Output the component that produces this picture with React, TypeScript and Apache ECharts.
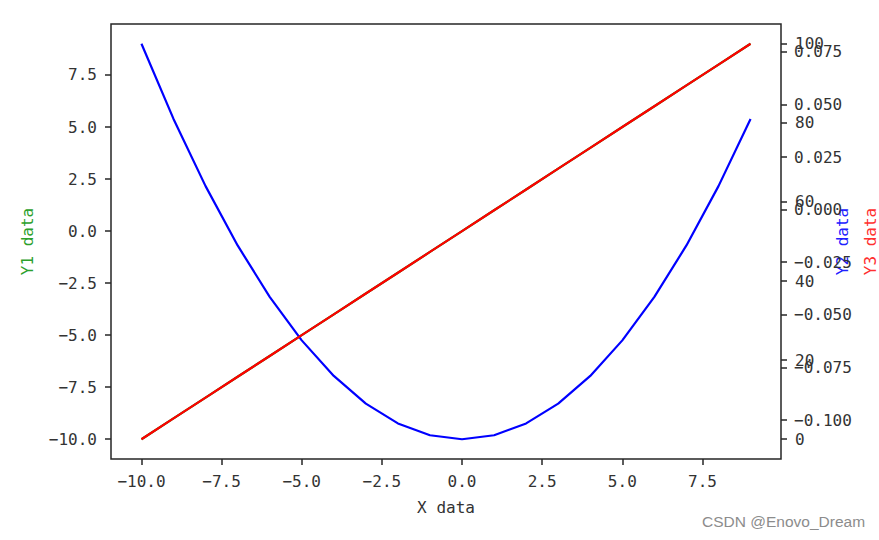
import React, { useEffect, useRef } from "react";
import * as echarts from "echarts";

const xValues = [-10, -9, -8, -7, -6, -5, -4, -3, -2, -1, 0, 1, 2, 3, 4, 5, 6, 7, 8, 9];
const y1Values = [-10, -9, -8, -7, -6, -5, -4, -3, -2, -1, 0, 1, 2, 3, 4, 5, 6, 7, 8, 9];
const y2Values = [100, 81, 64, 49, 36, 25, 16, 9, 4, 1, 0, 1, 4, 9, 16, 25, 36, 49, 64, 81];
const y3Values = [-10, -9, -8, -7, -6, -5, -4, -3, -2, -1, 0, 1, 2, 3, 4, 5, 6, 7, 8, 9];

const xTicks = [-10, -7.5, -5, -2.5, 0, 2.5, 5, 7.5];
const y1Ticks = [-10, -7.5, -5, -2.5, 0, 2.5, 5, 7.5];
const y2Ticks = [0, 20, 40, 60, 80, 100];
const y3Ticks = [-0.1, -0.075, -0.05, -0.025, 0, 0.025, 0.05, 0.075];

const MONO = "'DejaVu Sans Mono', monospace";
const FRAME = "#262626";

const fmt = (d: number) => (v: number) => {
  const s = Math.abs(v).toFixed(d);
  return v < -1e-12 ? "\u2212" + s : s;
};

const labelStyle = { fontFamily: MONO, fontSize: 16, color: "#333" };

export default function App() {
  const ref = useRef<HTMLDivElement>(null);
  useEffect(() => {
    document.body.style.margin = "0";
    const chart = echarts.init(ref.current!, null, { renderer: "svg" });
    const tick = (vals: number[]) => ({
      show: true,
      inside: false,
      length: 6,
      customValues: vals,
      lineStyle: { color: FRAME, width: 1.5 },
    });
    chart.setOption({
      animation: false,
      backgroundColor: "#fff",
      grid: {
        left: 111,
        top: 24,
        width: 670,
        height: 435,
        show: true,
        outerBoundsMode: "none",
        containLabel: false,
        borderColor: FRAME,
        borderWidth: 1.5,
        backgroundColor: "transparent",
      },
      xAxis: {
        type: "value",
        min: -10.95,
        max: 9.95,
        name: "X data",
        nameLocation: "middle",
        nameGap: 40,
        nameTextStyle: { fontFamily: MONO, fontSize: 16, color: "#333" },
        axisLine: { show: false, onZero: false },
        axisTick: tick(xTicks),
        axisLabel: { ...labelStyle, margin: 14, customValues: xTicks, formatter: fmt(1) },
        splitLine: { show: false },
      },
      yAxis: [
        {
          type: "value",
          position: "left",
          min: -10.95,
          max: 9.95,
          name: "Y1 data",
          nameLocation: "middle",
          nameGap: 76,
          nameTextStyle: { fontFamily: MONO, fontSize: 16, color: "#2ca02c" },
          axisLine: { show: false, onZero: false },
          axisTick: tick(y1Ticks),
          axisLabel: { ...labelStyle, margin: 14, customValues: y1Ticks, formatter: fmt(1) },
          splitLine: { show: false },
        },
        {
          type: "value",
          position: "right",
          offset: 0,
          min: -5,
          max: 105,
          name: "Y2 data",
          nameLocation: "middle",
          nameGap: 37,
          nameTextStyle: { fontFamily: MONO, fontSize: 16, color: "#2020ff" },
          axisLine: { show: false, onZero: false },
          axisTick: tick(y2Ticks),
          axisLabel: { ...labelStyle, margin: 14, customValues: y2Ticks, formatter: fmt(0) },
          splitLine: { show: false },
        },
        {
          type: "value",
          position: "right",
          offset: 0,
          min: -0.1185,
          max: 0.0882,
          name: "Y3 data",
          nameLocation: "middle",
          nameGap: 68,
          nameTextStyle: { fontFamily: MONO, fontSize: 16, color: "#ff3030" },
          axisLine: { show: false, onZero: false },
          axisTick: tick(y3Ticks),
          axisLabel: { ...labelStyle, margin: 13, customValues: y3Ticks, formatter: fmt(3) },
          splitLine: { show: false },
        },
      ],
      series: [
        {
          name: "Y1",
          type: "line",
          yAxisIndex: 0,
          data: xValues.map((x, i) => [x, y1Values[i]]),
          showSymbol: false,
          lineStyle: { color: "#008000", width: 2.2 },
          itemStyle: { color: "#008000" },
        },
        {
          name: "Y2",
          type: "line",
          yAxisIndex: 1,
          data: xValues.map((x, i) => [x, y2Values[i]]),
          showSymbol: false,
          lineStyle: { color: "#0000ff", width: 2.2 },
          itemStyle: { color: "#0000ff" },
        },
        {
          name: "Y3",
          type: "line",
          yAxisIndex: 0,
          data: xValues.map((x, i) => [x, y3Values[i]]),
          showSymbol: false,
          lineStyle: { color: "#ff0000", width: 2.2 },
          itemStyle: { color: "#ff0000" },
        },
      ],
      graphic: [
        {
          type: "text",
          left: 702,
          top: 513,
          style: {
            text: "CSDN @Enovo_Dream",
            fontFamily: "'Liberation Sans', Arial, sans-serif",
            fontSize: 15.5,
            fill: "#8c8c8c",
          },
        },
      ],
    });
    return () => chart.dispose();
  }, []);
  return <div ref={ref} style={{ width: 879, height: 540 }} />;
}
